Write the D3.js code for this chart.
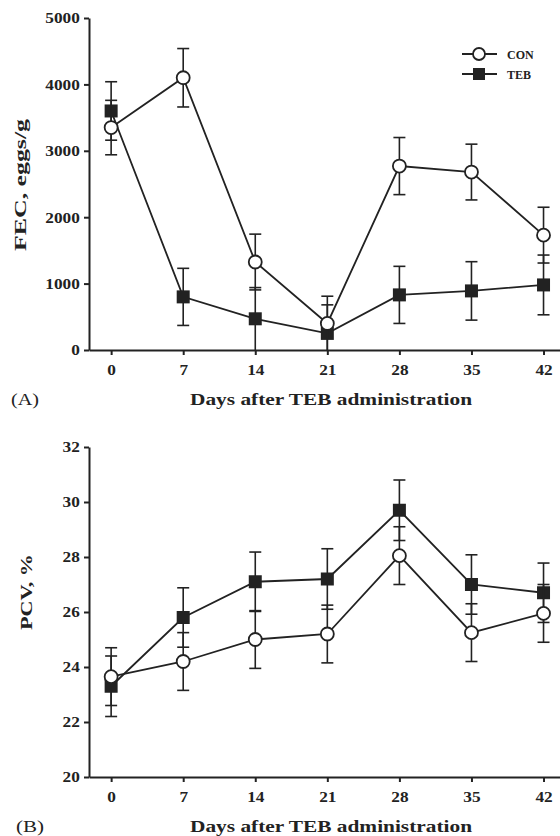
<!DOCTYPE html>
<html>
<head>
<meta charset="utf-8">
<script src="https://d3js.org/d3.v7.min.js"></script>
<style>
  body { margin: 0; background: #fff; }
  svg { display: block; }
  .axis path, .axis line { stroke: #222; stroke-width: 2; }
  .axis text { font-family: "Liberation Serif", serif; font-weight: bold; font-size: 15px; fill: #222; }
  .title { font-family: "Liberation Serif", serif; font-weight: bold; font-size: 17px; fill: #222; }
  .panel { font-family: "Liberation Serif", serif; font-size: 17px; fill: #222; }
  .legend text { font-family: "Liberation Serif", serif; font-weight: bold; font-size: 12px; fill: #222; }
</style>
</head>
<body>
<svg id="chart" width="560" height="836"></svg>
<script>
// days after TEB administration
var days = [0, 7, 14, 21, 28, 35, 42];

// panel A: faecal egg count (eggs/g)
var fecCon    = [3350, 4100, 1325, 400, 2770, 2680, 1730];
var fecConErr = [410, 440, 420, 410, 430, 420, 420];
var fecTeb    = [3600, 800, 470, 250, 830, 890, 980];
var fecTebErr = [440, 430, 470, 430, 430, 440, 450];
var fecTicks  = [0, 1000, 2000, 3000, 4000, 5000];

// panel B: packed cell volume (%)
var pcvCon    = [23.65, 24.2, 25.0, 25.2, 28.05, 25.25, 25.95];
var pcvConErr = [1.05, 1.05, 1.05, 1.05, 1.05, 1.05, 1.05];
var pcvTeb    = [23.3, 25.8, 27.1, 27.2, 29.7, 27.0, 26.7];
var pcvTebErr = [1.1, 1.08, 1.08, 1.1, 1.1, 1.08, 1.08];
var pcvTicks  = [20, 22, 24, 26, 28, 30, 32];

var seriesNames = ["CON", "TEB"];

var svg = d3.select("#chart");
var ink = "#222";

var xScale = d3.scaleLinear().domain([-2.15, 43.6]).range([89, 560]);

function drawPanel(opt) {
  var y = d3.scaleLinear().domain(opt.domain).range(opt.range);
  var g = svg.append("g");

  // axes
  g.append("g").attr("class", "axis")
    .attr("transform", "translate(0," + opt.range[0] + ")")
    .call(d3.axisBottom(xScale).tickValues(days).tickFormat(d3.format("d"))
      .tickSize(5).tickSizeOuter(0).tickPadding(9))
    .selectAll("text").attr("transform", "scale(1.15,1)");
  g.append("g").attr("class", "axis")
    .attr("transform", "translate(89,0)")
    .call(d3.axisLeft(y).tickValues(opt.ticks).tickFormat(d3.format("d"))
      .tickSize(5).tickSizeOuter(0).tickPadding(3))
    .selectAll("text").attr("transform", "scale(1.15,1)");

  var line = d3.line().x(function(d) { return xScale(d.x); }).y(function(d) { return y(d.y); });
  var lo = opt.domain[0];

  var series = [
    { name: "TEB", vals: opt.teb, err: opt.tebErr },
    { name: "CON", vals: opt.con, err: opt.conErr }
  ];

  series.forEach(function(s) {
    var pts = days.map(function(d, i) { return { x: d, y: s.vals[i], e: s.err[i] }; });

    var eb = g.append("g").attr("stroke", ink).attr("stroke-width", 1.6);
    eb.selectAll(".v").data(pts).enter().append("line")
      .attr("x1", function(d) { return xScale(d.x); })
      .attr("x2", function(d) { return xScale(d.x); })
      .attr("y1", function(d) { return y(Math.max(lo, d.y - d.e)); })
      .attr("y2", function(d) { return y(d.y + d.e); });
    eb.selectAll(".t").data(pts).enter().append("line")
      .attr("x1", function(d) { return xScale(d.x) - 6; })
      .attr("x2", function(d) { return xScale(d.x) + 6; })
      .attr("y1", function(d) { return y(d.y + d.e); })
      .attr("y2", function(d) { return y(d.y + d.e); });
    eb.selectAll(".b").data(pts.filter(function(d) { return d.y - d.e > lo; })).enter().append("line")
      .attr("x1", function(d) { return xScale(d.x) - 6; })
      .attr("x2", function(d) { return xScale(d.x) + 6; })
      .attr("y1", function(d) { return y(d.y - d.e); })
      .attr("y2", function(d) { return y(d.y - d.e); });

    g.append("path").datum(pts)
      .attr("fill", "none").attr("stroke", ink).attr("stroke-width", 1.8)
      .attr("d", line);

    if (s.name == "CON") {
      g.selectAll(".c").data(pts).enter().append("circle")
        .attr("cx", function(d) { return xScale(d.x); })
        .attr("cy", function(d) { return y(d.y); })
        .attr("r", 6.5)
        .attr("fill", "#fff").attr("stroke", ink).attr("stroke-width", 1.8);
    } else {
      g.selectAll(".s").data(pts).enter().append("rect")
        .attr("x", function(d) { return xScale(d.x) - 6.5; })
        .attr("y", function(d) { return y(d.y) - 6.5; })
        .attr("width", 13).attr("height", 13)
        .attr("fill", ink);
    }
  });

  // y title
  g.append("text").attr("class", "title")
    .attr("transform", "translate(" + opt.yTitleX + "," + opt.yTitleY + ") rotate(-90)")
    .attr("text-anchor", "middle")
    .attr("textLength", opt.yTitleLen).attr("lengthAdjust", "spacingAndGlyphs")
    .text(opt.yTitle);

  // x title
  g.append("text").attr("class", "title")
    .attr("x", 331).attr("y", opt.range[0] + 55)
    .attr("text-anchor", "middle")
    .attr("textLength", 282).attr("lengthAdjust", "spacingAndGlyphs")
    .text("Days after TEB administration");

  // panel letter
  g.append("text").attr("class", "panel")
    .attr("x", opt.letterX).attr("y", opt.range[0] + 55)
    .attr("textLength", 28).attr("lengthAdjust", "spacingAndGlyphs")
    .text(opt.letter);
}

drawPanel({
  domain: [0, 5000], range: [350, 18], ticks: fecTicks,
  con: fecCon, conErr: fecConErr, teb: fecTeb, tebErr: fecTebErr,
  yTitle: "FEC, eggs/g", yTitleX: 26, yTitleY: 185, yTitleLen: 132,
  letter: "(A)", letterX: 11
});

drawPanel({
  domain: [20, 32], range: [777, 447], ticks: pcvTicks,
  con: pcvCon, conErr: pcvConErr, teb: pcvTeb, tebErr: pcvTebErr,
  yTitle: "PCV, %", yTitleX: 32, yTitleY: 592, yTitleLen: 76,
  letter: "(B)", letterX: 16
});

// legend
var legend = svg.append("g").attr("class", "legend");
seriesNames.forEach(function(name, i) {
  var ly = 54 + i * 20;
  legend.append("line").attr("x1", 462).attr("x2", 497).attr("y1", ly).attr("y2", ly)
    .attr("stroke", ink).attr("stroke-width", 1.8);
  if (name == "CON") {
    legend.append("circle").attr("cx", 479).attr("cy", ly).attr("r", 6)
      .attr("fill", "#fff").attr("stroke", ink).attr("stroke-width", 1.8);
  } else {
    legend.append("rect").attr("x", 473).attr("y", ly - 6).attr("width", 12).attr("height", 12)
      .attr("fill", ink);
  }
  legend.append("text").attr("x", 507).attr("y", ly + 4.5).text(name);
});
</script>
</body>
</html>
